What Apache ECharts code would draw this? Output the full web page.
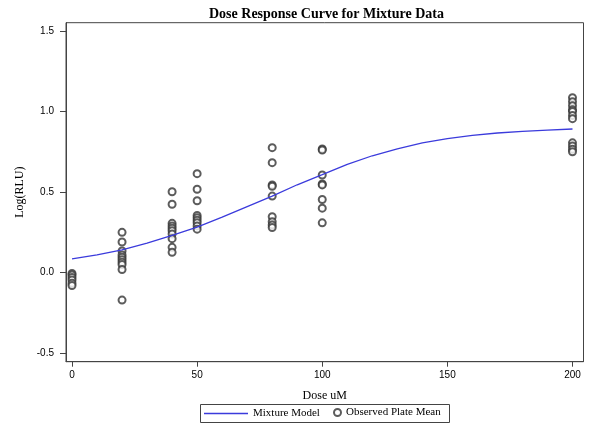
<!DOCTYPE html>
<html><head><meta charset="utf-8">
<script src="https://cdn.jsdelivr.net/npm/echarts@6/dist/echarts.min.js"></script>
<style>html,body{margin:0;padding:0;background:#fff}#c{width:601px;height:434px}</style>
</head><body><div id="c"></div>
<script>
// ---- data ----
const xTicks = [0, 50, 100, 150, 200];
const yTicks = [-0.5, 0.0, 0.5, 1.0, 1.5];
const doseLevels = [0, 20, 40, 50, 80, 100, 200];
const obs0 = [-0.005, -0.015, -0.03, -0.045, -0.065, -0.08];
const obs20 = [0.25, 0.19, 0.135, 0.11, 0.095, 0.08, 0.065, 0.05, 0.02, -0.17];
const obs40 = [0.502, 0.424, 0.306, 0.29, 0.275, 0.26, 0.24, 0.211, 0.157, 0.126];
const obs50 = [0.614, 0.517, 0.446, 0.355, 0.34, 0.325, 0.31, 0.29, 0.27];
const obs80 = [0.775, 0.682, 0.544, 0.536, 0.475, 0.347, 0.316, 0.296, 0.28];
const obs100 = [0.767, 0.761, 0.606, 0.55, 0.544, 0.454, 0.4, 0.309];
const obs200 = [1.085, 1.06, 1.035, 1.01, 1.0, 0.975, 0.955, 0.805, 0.785, 0.765, 0.75];
const curveDose = [0, 10, 20, 30, 40, 50, 60, 70, 80, 90, 100, 110, 120, 130, 140, 150, 160, 170, 180, 190, 200];
const curveValue = [0.085, 0.11, 0.141, 0.183, 0.232, 0.283, 0.345, 0.41, 0.475, 0.545, 0.608, 0.672, 0.725, 0.768, 0.805, 0.831, 0.851, 0.866, 0.876, 0.884, 0.891];

// ---- build ----
const obsGroups = [obs0, obs20, obs40, obs50, obs80, obs100, obs200];
const scatterData = [];
obsGroups.forEach((g, i) => g.forEach(v => scatterData.push([doseLevels[i], v])));
const lineData = curveDose.map((d, i) => [d, curveValue[i]]);

const chart = echarts.init(document.getElementById('c'), null, {renderer: 'canvas'});
const frame = '#444';
chart.setOption({
  animation: false,
  backgroundColor: '#fff',
  title: {
    text: 'Dose Response Curve for Mixture Data',
    left: 204, top: 2,
    textStyle: {fontFamily: 'Liberation Serif', fontWeight: 'bold', fontSize: 14, color: '#000'}
  },
  grid: {left: 66, right: 17.5, top: 22.7, bottom: 72.3, show: true, borderColor: frame, borderWidth: 1, backgroundColor: 'transparent'},
  xAxis: {
    type: 'value', min: -2.4, max: 204.4,
    name: 'Dose uM', nameLocation: 'middle', nameGap: 28,
    nameTextStyle: {fontFamily: 'Liberation Serif', fontSize: 12, color: '#000'},
    axisLine: {show: true, onZero: false, lineStyle: {color: frame}},
    axisTick: {show: true, length: 5, lineStyle: {color: frame}, customValues: xTicks},
    axisLabel: {margin: 9, fontFamily: 'Liberation Sans', fontSize: 10, color: '#000', customValues: xTicks, formatter: v => String(v)},
    splitLine: {show: false}
  },
  yAxis: {
    type: 'value', min: -0.552, max: 1.55,
    name: 'Log(RLU)', nameLocation: 'middle', nameGap: 37, nameRotate: 90,
    nameTextStyle: {fontFamily: 'Liberation Serif', fontSize: 12, color: '#000'},
    axisLine: {show: true, onZero: false, lineStyle: {color: frame}},
    axisTick: {show: true, length: 6, lineStyle: {color: frame}, customValues: yTicks},
    axisLabel: {margin: 12, fontFamily: 'Liberation Sans', fontSize: 10, color: '#000', customValues: yTicks, formatter: v => v.toFixed(1)},
    splitLine: {show: false}
  },
  legend: [
    {data: [{name: 'Mixture Model', icon: 'rect'}], left: 204, top: 408, itemWidth: 44, itemHeight: 1.5, padding: 0,
     textStyle: {fontFamily: 'Liberation Serif', fontSize: 11, color: '#000'}},
    {data: [{name: 'Observed Plate Mean', icon: 'emptyCircle'}], left: 333, top: 407, itemWidth: 7, itemHeight: 7, padding: 0,
     itemStyle: {borderWidth: 0.9},
     textStyle: {fontFamily: 'Liberation Serif', fontSize: 11, color: '#000'}}
  ],
  graphic: [{type: 'rect', shape: {x: 200.5, y: 404.5, width: 249, height: 18}, style: {fill: 'none', stroke: frame, lineWidth: 1}}],
  series: [
    {name: 'Mixture Model', type: 'line', data: lineData, showSymbol: false, smooth: false,
     lineStyle: {color: '#3b3bdc', width: 1.3}, itemStyle: {color: '#3b3bdc'}, z: 3},
    {name: 'Observed Plate Mean', type: 'scatter', data: scatterData, symbol: 'emptyCircle', symbolSize: 7,
     itemStyle: {color: '#333', borderColor: '#333', borderWidth: 0.8}, z: 2}
  ]
});
</script></body></html>
